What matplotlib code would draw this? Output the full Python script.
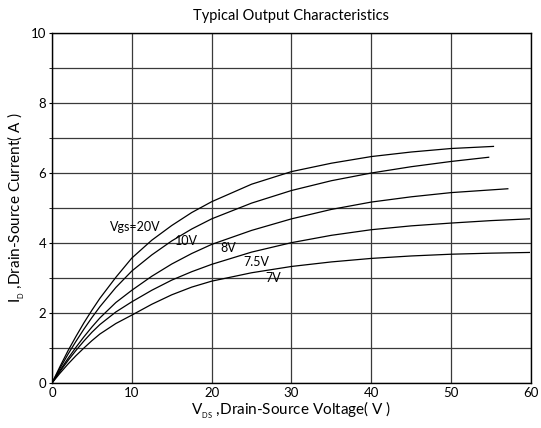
import matplotlib
matplotlib.use("Agg")
import matplotlib.pyplot as plt
import numpy as np

plt.rcParams['font.family'] = ['Lato', 'DejaVu Sans']

# curves: (Vds, Id)
v_20 = [0, 1, 2, 3, 4, 5, 6, 8, 10, 12.5, 15, 17.5, 20, 25, 30, 35, 40, 45, 50, 55.3]
i_20 = [0, 0.47, 0.92, 1.33, 1.72, 2.08, 2.42, 3.02, 3.57, 4.08, 4.5, 4.87, 5.18, 5.68, 6.04, 6.28, 6.47, 6.6, 6.7, 6.76]

v_10 = [0, 1, 2, 3, 4, 5, 6, 8, 10, 12.5, 15, 17.5, 20, 25, 30, 35, 40, 45, 50, 54.7]
i_10 = [0, 0.42, 0.82, 1.19, 1.54, 1.87, 2.18, 2.73, 3.2, 3.66, 4.06, 4.4, 4.69, 5.14, 5.5, 5.78, 6.0, 6.18, 6.33, 6.45]

v_8 = [0, 1, 2, 3, 4, 5, 6, 8, 10, 12.5, 15, 17.5, 20, 25, 30, 35, 40, 45, 50, 57.1]
i_8 = [0, 0.36, 0.7, 1.02, 1.32, 1.6, 1.86, 2.3, 2.65, 3.05, 3.4, 3.7, 3.96, 4.36, 4.69, 4.96, 5.17, 5.32, 5.44, 5.55]

v_75 = [0, 1, 2, 3, 4, 5, 6, 8, 10, 12.5, 15, 17.5, 20, 25, 30, 35, 40, 45, 50, 55, 59.8]
i_75 = [0, 0.33, 0.64, 0.93, 1.2, 1.45, 1.67, 2.03, 2.32, 2.65, 2.94, 3.18, 3.39, 3.74, 4.01, 4.22, 4.38, 4.49, 4.57, 4.64, 4.69]

v_7 = [0, 1, 2, 3, 4, 5, 6, 8, 10, 12.5, 15, 17.5, 20, 25, 30, 35, 40, 45, 50, 55, 59.8]
i_7 = [0, 0.28, 0.54, 0.78, 1.0, 1.21, 1.4, 1.7, 1.94, 2.25, 2.52, 2.74, 2.91, 3.15, 3.33, 3.46, 3.56, 3.63, 3.68, 3.71, 3.73]

labels = ["Vgs=20V", "10V", "8V", "7.5V", "7V"]
label_pos = [(10.4, 4.45), (16.8, 4.05), (22.1, 3.85), (25.6, 3.45), (27.7, 3.0)]

fig = plt.figure(figsize=(5.41, 4.28), dpi=100)
ax = fig.add_axes([0.0961, 0.1051, 0.8854, 0.8178])

for v, i in [(v_20, i_20), (v_10, i_10), (v_8, i_8), (v_75, i_75), (v_7, i_7)]:
    ax.plot(v, i, color='black', lw=0.9, zorder=3)

for lab, (x, y) in zip(labels, label_pos):
    ax.text(x, y, lab, fontsize=9, ha='center', va='center', zorder=4)

ax.set_xlim(0, 60)
ax.set_ylim(0, 10)
ax.set_xticks(np.arange(0, 61, 10))
ax.set_yticks(np.arange(0, 11, 2))
ax.set_yticks(np.arange(0, 11, 1), minor=True)
ax.grid(True, which='both', color='#3a3a3a', lw=0.9)
ax.tick_params(axis='x', length=0, labelsize=9.5, pad=3)
ax.tick_params(axis='y', which='both', length=2, labelsize=9.5, pad=2)
for s in ax.spines.values():
    s.set_color('black')
    s.set_linewidth(1.0)

ax.set_title("Typical Output Characteristics", fontsize=10.5, pad=9)
ax.set_xlabel(r"V$_{\mathregular{_{DS}}}$ ,Drain-Source Voltage( V )", fontsize=11, labelpad=0)
ax.set_ylabel(r"I$_{\mathregular{_D}}$ ,Drain-Source Current( A )", fontsize=11, labelpad=3)

fig.savefig("out.png", dpi=100)
